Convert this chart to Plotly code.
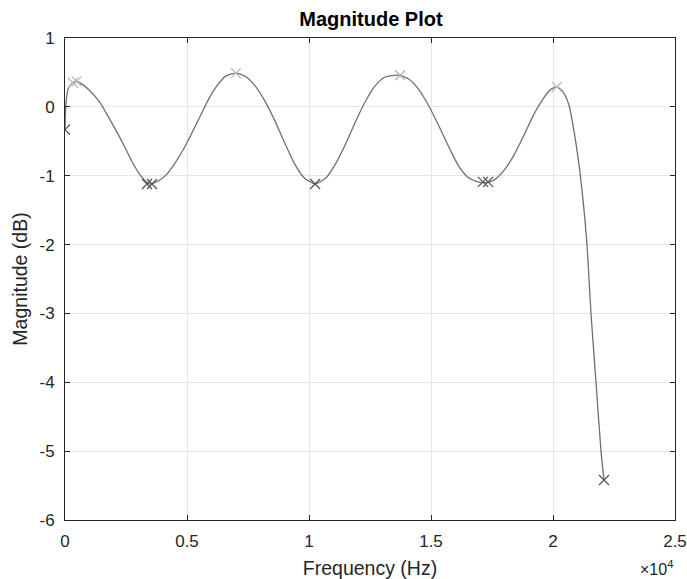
import plotly.graph_objects as go

# Magnitude response (Hz, dB)
freq_hz = [0, 40, 120, 250, 450, 700, 1000, 1434, 1800, 2119, 2500, 2800, 3100, 3450,
           3800, 4168, 4500, 4850, 5200, 5533, 5900, 6217, 6600, 7000, 7400, 7800, 8200,
           8600, 9000, 9400, 9800, 10250, 10700, 11100, 11500, 11900, 12300, 12700, 13100,
           13700, 14100, 14500, 14900, 15300, 15700, 16100, 16500, 16900, 17230, 17600,
           18000, 18400, 18800, 19200, 19600, 19900, 20150, 20400, 20650, 20850, 21050,
           21230, 21393, 21557, 21762, 21967, 22090]
mag_db = [-0.33, 0.05, 0.25, 0.33, 0.37, 0.33, 0.24, 0.06, -0.16, -0.36, -0.62, -0.83, -1.00, -1.12,
          -1.08, -0.98, -0.82, -0.62, -0.38, -0.14, 0.12, 0.30, 0.45, 0.49, 0.44, 0.30, 0.08,
          -0.20, -0.52, -0.82, -1.03, -1.12, -1.03, -0.82, -0.54, -0.22, 0.07, 0.30, 0.43,
          0.46, 0.40, 0.25, 0.02, -0.26, -0.56, -0.84, -1.02, -1.09, -1.10, -1.06,
          -0.92, -0.70, -0.42, -0.12, 0.12, 0.25, 0.29, 0.22, 0.03, -0.33, -0.80,
          -1.35, -2.0, -3.0, -4.0, -5.0, -5.42]

# Marked points: ripple peaks and troughs / band edges
peak_hz = [330, 480, 7000, 13730, 20160]
peak_db = [0.35, 0.37, 0.49, 0.46, 0.29]
trough_hz = [0, 3360, 3565, 10250, 17130, 17340, 22090]
trough_db = [-0.33, -1.12, -1.12, -1.12, -1.09, -1.09, -5.42]

x_tick_vals = [0, 5000, 10000, 15000, 20000, 25000]
x_tick_text = ["0", "0.5", "1", "1.5", "2", "2.5"]
y_tick_vals = [1, 0, -1, -2, -3, -4, -5, -6]
y_tick_text = ["1", "0", "-1", "-2", "-3", "-4", "-5", "-6"]

axis_color = "#262626"
font_family = "Liberation Sans, Arial, sans-serif"

fig = go.Figure()
fig.add_trace(go.Scatter(x=freq_hz, y=mag_db, mode="lines",
                         line=dict(color="#707070", width=1.3, shape="spline", smoothing=0.6),
                         hoverinfo="skip", showlegend=False))
fig.add_trace(go.Scatter(x=peak_hz, y=peak_db, mode="markers",
                         marker=dict(symbol="x-thin-open", size=10, color="#b8b8b8",
                                     line=dict(color="#b8b8b8", width=1.3)),
                         showlegend=False))
fig.add_trace(go.Scatter(x=trough_hz, y=trough_db, mode="markers",
                         marker=dict(symbol="x-thin-open", size=10, color="#555555",
                                     line=dict(color="#555555", width=1.3)),
                         showlegend=False))

axis_common = dict(showline=True, linecolor=axis_color, linewidth=1, mirror="ticks",
                   ticks="inside", ticklen=5, tickcolor=axis_color, automargin=False,
                   showgrid=True, gridcolor="#e6e6e6", gridwidth=1, zeroline=False,
                   tickfont=dict(family=font_family, size=17, color=axis_color))

fig.update_xaxes(range=[0, 25000], tickmode="array", tickvals=x_tick_vals, ticktext=x_tick_text,
                 ticklabelstandoff=6,
                 title=dict(text="Frequency (Hz)", font=dict(family=font_family, size=19.5, color=axis_color),
                            standoff=10),
                 **axis_common)
fig.update_yaxes(range=[-6, 1], tickmode="array", tickvals=y_tick_vals, ticktext=y_tick_text,
                 ticklabelstandoff=6,
                 title=dict(text="Magnitude (dB)", font=dict(family=font_family, size=19.5, color=axis_color),
                            standoff=6),
                 **axis_common)

fig.update_layout(
    width=687, height=579,
    margin=dict(l=65, r=12, t=38, b=59),
    paper_bgcolor="white", plot_bgcolor="white",
    title=dict(text="<b>Magnitude Plot</b>", x=0.54, xanchor="center", y=0.968, yanchor="middle",
               font=dict(family=font_family, size=20, color="#000000")),
    annotations=[dict(text="×10<sup>4</sup>", xref="paper", yref="paper", x=1.0, y=-0.1,
                      xanchor="right", yanchor="middle", showarrow=False,
                      font=dict(family=font_family, size=16, color=axis_color))],
)

fig.write_html("out.html")
